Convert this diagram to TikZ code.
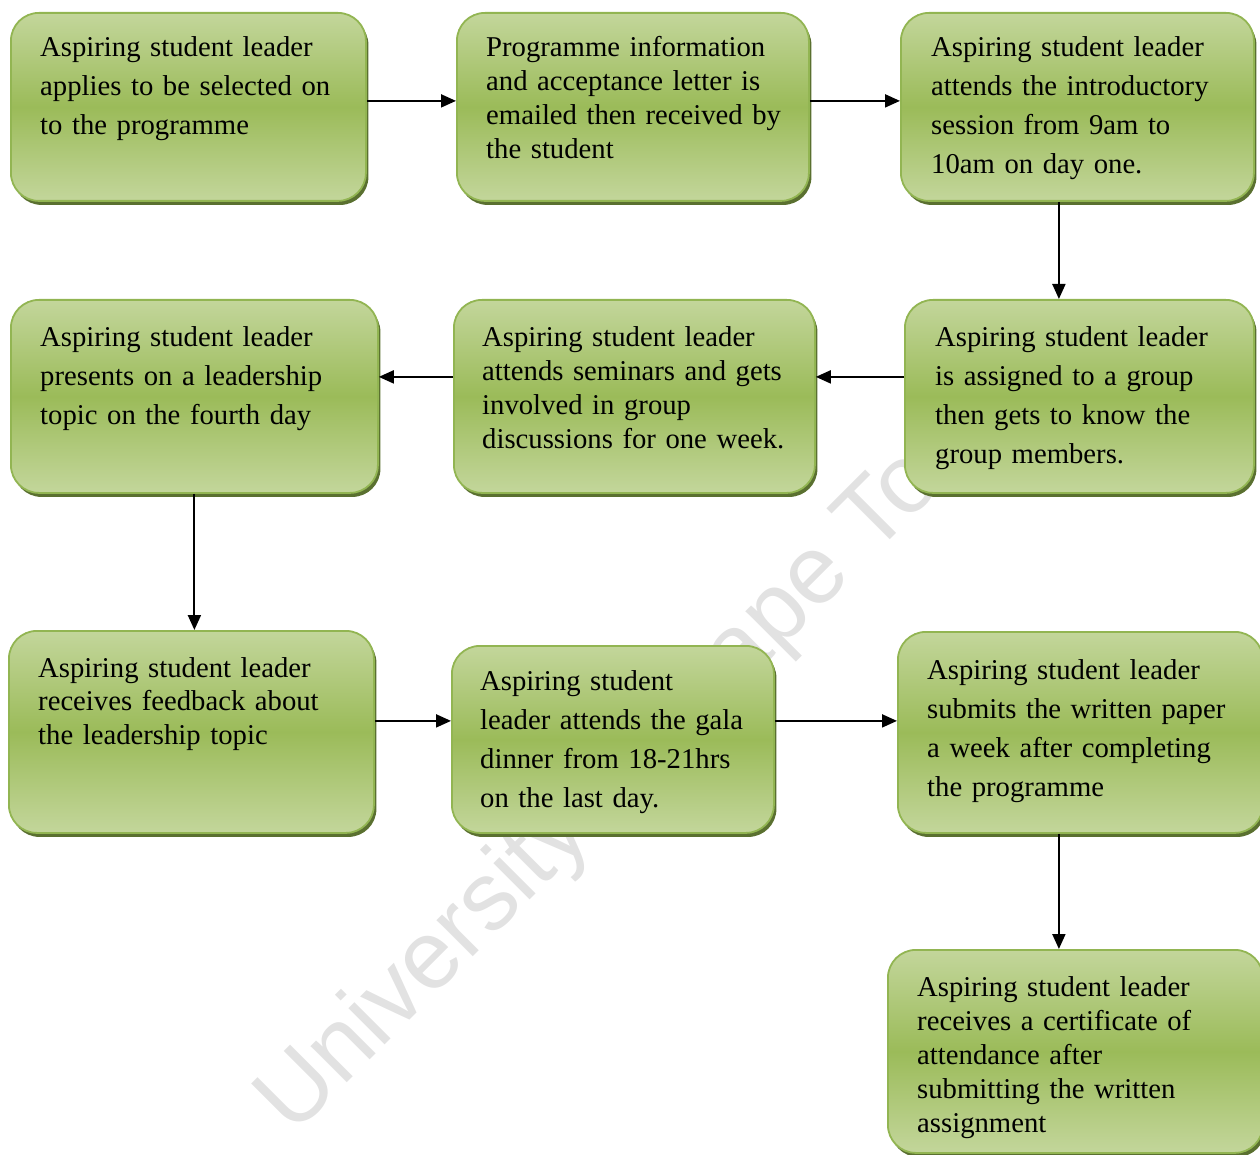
\documentclass[tikz,border=0pt]{standalone}
\usepackage{fontspec}
\setmainfont{Liberation Serif}
\newfontfamily\wmfont{Liberation Sans}
\usetikzlibrary{arrows.meta,shadows}
\definecolor{gtop}{HTML}{C3D69B}
\definecolor{gmid}{HTML}{9BBB59}
\definecolor{gborder}{HTML}{92B552}
\definecolor{gshadow}{HTML}{5A7030}
\definecolor{wmgray}{HTML}{E2E2E2}
\newcommand\boxfont[1]{\fontsize{28.7}{#1}\selectfont\spaceskip=0.23em\relax\xspaceskip=0.23em\relax}
\begin{document}
\begin{tikzpicture}[x=1pt,y=-1pt,
  stepbox/.style={draw=gborder, line width=1.8pt, rounded corners=28pt,
    top color=gtop, bottom color=gtop, middle color=gmid,
    drop shadow={shadow xshift=2.5pt, shadow yshift=-4pt, fill=gshadow, opacity=1},
    anchor=north west, inner sep=0pt},
  txt/.style={anchor=base west, inner sep=0pt, text width=370pt, align=left},
  wide/.style={font=\boxfont{39}},
  tight/.style={font=\boxfont{34}},
  arr/.style={line width=2pt, -{Triangle[length=15pt,width=13pt]}}]
\useasboundingbox (0,0) rectangle (1260,1155);

% watermark
\node[font=\wmfont\fontsize{97}{100}\selectfont, text=wmgray, rotate=45,
      anchor=base west, inner sep=0pt] (wm) at (293,1137) {University of Cape Town};

% boxes
\node[stepbox, minimum width=355pt, minimum height=188pt] (b1) at (10,12) {};
\node[stepbox, minimum width=352pt, minimum height=188pt] (b2) at (456,12) {};
\node[stepbox, minimum width=353pt, minimum height=188pt] (b3) at (900,12) {};
\node[stepbox, minimum width=367pt, minimum height=193pt] (b4) at (10,299) {};
\node[stepbox, minimum width=361pt, minimum height=193pt] (b5) at (453,299) {};
\node[stepbox, minimum width=349pt, minimum height=193pt] (b6) at (904,299) {};
\node[stepbox, minimum width=365pt, minimum height=202pt] (b7) at (8,630) {};
\node[stepbox, minimum width=322pt, minimum height=187pt] (b8) at (451,645) {};
\node[stepbox, minimum width=365pt, minimum height=201pt] (b9) at (897,631) {};
\node[stepbox, minimum width=375pt, minimum height=203pt] (b10) at (887,949) {};

% texts
\node[txt, wide] (t1) at (40,57) {Aspiring student leader\\applies to be selected on\\to the programme};
\node[txt, tight] (t2) at (486,57) {Programme information\\and acceptance letter is\\emailed then received by\\the student};
\node[txt, wide] (t3) at (931,57) {Aspiring student leader\\attends the introductory\\session from 9am to\\10am on day one.};
\node[txt, wide] (t4) at (40,346) {Aspiring student leader\\presents on a leadership\\topic on the fourth day};
\node[txt, tight] (t5) at (482,346) {Aspiring student leader\\attends seminars and gets\\involved in group\\discussions for one week.};
\node[txt, wide] (t6) at (935,346) {Aspiring student leader\\is assigned to a group\\then gets to know the\\group members.};
\node[txt, font=\boxfont{33.5}] (t7) at (38,677) {Aspiring student leader\\receives feedback about\\the leadership topic};
\node[txt, wide] (t8) at (480,690) {Aspiring student\\leader attends the gala\\dinner from 18-21hrs\\on the last day.};
\node[txt, wide] (t9) at (927,679) {Aspiring student leader\\submits the written paper\\a week after completing\\the programme};
\node[txt, tight] (t10) at (917,996) {Aspiring student leader\\receives a certificate of\\attendance after\\submitting the written\\assignment};

% connectors
\draw[arr] ([yshift=6pt]b1.east) -- ([yshift=6pt]b1.east -| b2.west);
\draw[arr] ([yshift=6pt]b2.east) -- ([yshift=6pt]b2.east -| b3.west);
\draw[arr] ([xshift=-18.5pt]b3.south) -- ([xshift=-18.5pt]b3.south |- b6.north);
\draw[arr] ([yshift=19.5pt]b6.west) -- ([yshift=19.5pt]b6.west -| b5.east);
\draw[arr] ([yshift=19.5pt]b5.west) -- ([yshift=19.5pt]b5.west -| b4.east);
\draw[arr] (b4.south) -- (b4.south |- b7.north);
\draw[arr] ([yshift=11pt]b7.east) -- ([yshift=11pt]b7.east -| b8.west);
\draw[arr] ([yshift=18.5pt]b8.east) -- ([yshift=18.5pt]b8.east -| b9.west);
\draw[arr] ([xshift=-21.5pt]b9.south) -- ([xshift=-21.5pt]b9.south |- b10.north);
\end{tikzpicture}
\end{document}
